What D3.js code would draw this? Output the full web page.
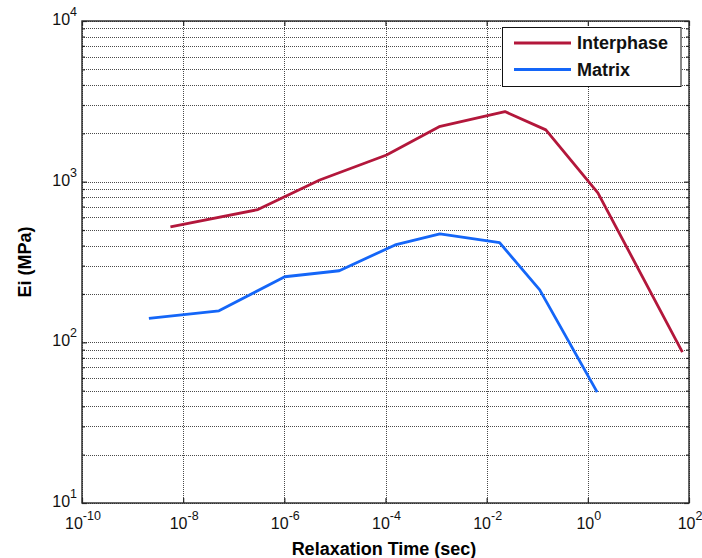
<!DOCTYPE html>
<html>
<head>
<meta charset="utf-8">
<script src="https://cdn.jsdelivr.net/npm/d3@7"></script>
<style>
  body { margin: 0; background: #fff; }
  text { font-family: "Liberation Sans", Arial, Helvetica, sans-serif; }
</style>
</head>
<body>
<div id="viz"></div>
<script>
// relaxation times (sec) and moduli (MPa)
const tauInterphase = [5.6e-9, 3.0e-7, 5.0e-6, 1.05e-4, 1.15e-3, 0.023, 0.148, 1.58, 74];
const eInterphase = [523, 670, 1025, 1466, 2198, 2730, 2100, 852, 87];
const tauMatrix = [2.1e-9, 5.1e-8, 1.02e-6, 1.22e-5, 1.55e-4, 1.19e-3, 0.018, 0.112, 1.53];
const eMatrix = [141, 157, 256, 279, 404, 473, 417, 212, 49];

const seriesNames = ['Interphase', 'Matrix'];
const seriesColors = ['#b3173b', '#1466f8'];

const xTickExp = [-10, -8, -6, -4, -2, 0, 2];
const yTickExp = [1, 2, 3, 4];

const width = 702;
const height = 558;
const pLeft = 82, pRight = 689, pTop = 21, pBottom = 503;

const x = d3.scaleLog().domain([1e-10, 1e2]).range([pLeft, pRight]);
const y = d3.scaleLog().domain([1e1, 1e4]).range([pBottom, pTop]);

const svg = d3.select('#viz')
      .append('svg:svg')
      .attr('width', width)
      .attr('height', height);

// minor + major y values for grid
const yGrid = [];
for (let e = 1; e < 4; e++) {
  for (let m = 1; m < 10; m++) yGrid.push(m * Math.pow(10, e));
}
yGrid.push(1e4);
const xMajor = xTickExp.map(e => Math.pow(10, e));
const yMajor = yTickExp.map(e => Math.pow(10, e));

const grid = svg.append('svg:g')
      .attr('stroke', '#4a4a4a')
      .attr('stroke-width', 1)
      .attr('stroke-dasharray', '1,1');

grid.selectAll('line.gy')
    .data(yGrid)
    .enter().append('svg:line')
    .attr('x1', pLeft).attr('x2', pRight)
    .attr('y1', d => Math.round(y(d)) + 0.5)
    .attr('y2', d => Math.round(y(d)) + 0.5);

grid.selectAll('line.gx')
    .data(xMajor)
    .enter().append('svg:line')
    .attr('y1', pTop).attr('y2', pBottom)
    .attr('x1', d => Math.round(x(d)) + 0.5)
    .attr('x2', d => Math.round(x(d)) + 0.5);

// axes with inside ticks
const axisColor = '#262626';
function styleAxis(g) {
  g.select('.domain').remove();
  g.selectAll('line').attr('stroke', axisColor).attr('stroke-width', 1.2);
  g.selectAll('text').remove();
}

const yMinor = yGrid.filter(d => !yMajor.includes(d));

svg.append('g').attr('transform', `translate(0,${pBottom})`)
    .call(d3.axisBottom(x).tickValues(xMajor).tickSize(-5).tickFormat(''))
    .call(styleAxis);
svg.append('g').attr('transform', `translate(0,${pTop})`)
    .call(d3.axisTop(x).tickValues(xMajor).tickSize(-5).tickFormat(''))
    .call(styleAxis);
svg.append('g').attr('transform', `translate(${pLeft},0)`)
    .call(d3.axisLeft(y).tickValues(yMajor).tickSize(-5).tickFormat(''))
    .call(styleAxis);
svg.append('g').attr('transform', `translate(${pLeft},0)`)
    .call(d3.axisLeft(y).tickValues(yMinor).tickSize(-3).tickFormat(''))
    .call(styleAxis);
svg.append('g').attr('transform', `translate(${pRight},0)`)
    .call(d3.axisRight(y).tickValues(yMajor).tickSize(-5).tickFormat(''))
    .call(styleAxis);
svg.append('g').attr('transform', `translate(${pRight},0)`)
    .call(d3.axisRight(y).tickValues(yMinor).tickSize(-3).tickFormat(''))
    .call(styleAxis);

// box
svg.append('svg:rect')
    .attr('x', pLeft).attr('y', pTop)
    .attr('width', pRight - pLeft).attr('height', pBottom - pTop)
    .attr('fill', 'none')
    .attr('stroke', axisColor)
    .attr('stroke-width', 1.4);

// tick labels
const xLab = svg.selectAll('text.xl')
    .data(xTickExp)
    .enter().append('svg:text')
    .attr('x', d => x(Math.pow(10, d)) + 1)
    .attr('y', 529)
    .attr('text-anchor', 'middle')
    .attr('font-size', 16)
    .attr('fill', '#111');
xLab.append('tspan').text('10');
xLab.append('tspan').attr('dy', -9).attr('font-size', 12.5).text(d => d < 0 ? '-' + (-d) : d);

const yLab = svg.selectAll('text.yl')
    .data(yTickExp)
    .enter().append('svg:text')
    .attr('x', 77)
    .attr('y', d => y(Math.pow(10, d)) + 4)
    .attr('text-anchor', 'end')
    .attr('font-size', 16)
    .attr('fill', '#111');
yLab.append('tspan').text('10');
yLab.append('tspan').attr('dy', -9).attr('font-size', 12.5).text(d => d);

// axis titles
svg.append('svg:text')
    .attr('x', 384).attr('y', 555)
    .attr('text-anchor', 'middle')
    .attr('font-size', 18)
    .attr('font-weight', 'bold')
    .text('Relaxation Time (sec)');

svg.append('svg:text')
    .attr('transform', 'translate(31,262) rotate(-90)')
    .attr('text-anchor', 'middle')
    .attr('font-size', 18)
    .attr('font-weight', 'bold')
    .text('Ei (MPa)');

// lines
const series = [
  tauInterphase.map((t, i) => [t, eInterphase[i]]),
  tauMatrix.map((t, i) => [t, eMatrix[i]])
];
const line = d3.line().x(d => x(d[0])).y(d => y(d[1]));

svg.selectAll('path.series')
    .data(series)
    .enter().append('svg:path')
    .attr('d', line)
    .attr('fill', 'none')
    .attr('stroke', (d, i) => seriesColors[i])
    .attr('stroke-width', 2.8)
    .attr('stroke-linejoin', 'round');

// legend
const legend = svg.append('svg:g');
legend.append('svg:rect')
    .attr('x', 502.5).attr('y', 27.5)
    .attr('width', 178.5).attr('height', 59)
    .attr('fill', '#fff')
    .attr('stroke', '#111')
    .attr('stroke-width', 1);
const rowY = [43, 69.5];
seriesNames.forEach((name, i) => {
  legend.append('svg:line')
      .attr('x1', 514).attr('x2', 571)
      .attr('y1', rowY[i]).attr('y2', rowY[i])
      .attr('stroke', seriesColors[i])
      .attr('stroke-width', 2.8);
  legend.append('svg:text')
      .attr('x', 577).attr('y', rowY[i] + 6)
      .attr('font-size', 18)
      .attr('font-weight', 'bold')
      .attr('fill', '#111')
      .text(name);
});
</script>
</body>
</html>
